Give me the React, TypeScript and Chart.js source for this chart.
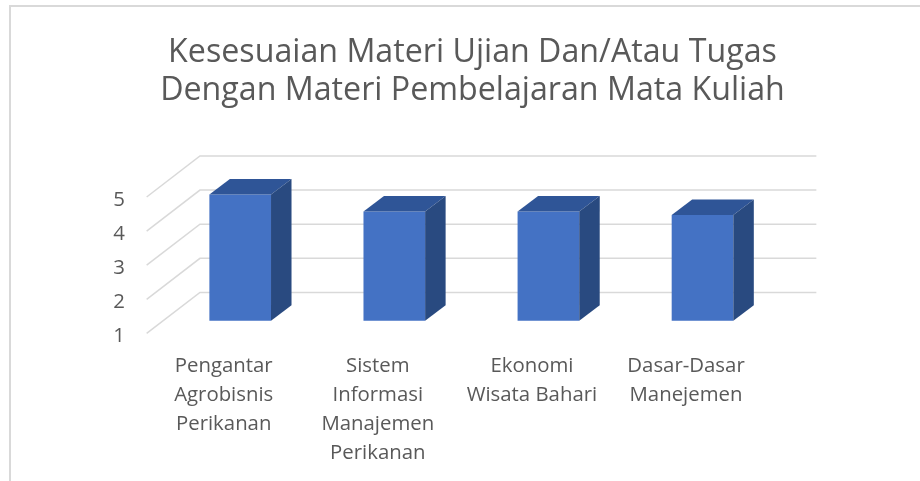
import React, { useEffect, useRef } from "react";
import { Chart, registerables } from "chart.js";

Chart.register(...registerables);

// ---- data ----
const TITLE_LINES = [
  "Kesesuaian Materi Ujian Dan/Atau Tugas",
  "Dengan Materi Pembelajaran Mata Kuliah",
];
const CATEGORIES: string[][] = [
  ["Pengantar", "Agrobisnis", "Perikanan"],
  ["Sistem", "Informasi", "Manajemen", "Perikanan"],
  ["Ekonomi", "Wisata Bahari"],
  ["Dasar-Dasar", "Manejemen"],
];
const VALUES = [4.7, 4.2, 4.2, 4.1];
const Y_TICKS = [1, 2, 3, 4, 5];

// ---- style ----
const FONT = '"Open Sans", "Noto Sans", sans-serif';
const TEXT = "#595959";
const GRID = "#d9d9d9";
const FRONT = "#4472C4";
const TOP = "#2F5597";
const SIDE = "#294A80";
// depth offsets relative to the bar front plane
const FX = -16.5, FY = 12.7; // front of the box
const BX = 36.8, BY = -28.3; // back wall
const DX = 20.5, DY = -15.5; // bar depth

function fitSize(ctx: CanvasRenderingContext2D, text: string, target: number) {
  ctx.font = `100px ${FONT}`;
  const w = ctx.measureText(text).width;
  return (100 * target) / w;
}

const threeD = {
  id: "threeD",
  beforeDraw(chart: any) {
    const ctx: CanvasRenderingContext2D = chart.ctx;
    const area = chart.chartArea;
    ctx.save();
    ctx.fillStyle = "#fff";
    ctx.fillRect(0, 0, chart.width, chart.height);
    // chart frame
    ctx.strokeStyle = GRID;
    ctx.lineWidth = 2;
    ctx.beginPath();
    ctx.moveTo(10, chart.height);
    ctx.lineTo(10, 6);
    ctx.lineTo(chart.width, 6);
    ctx.stroke();

    // title
    const ts = fitSize(ctx, TITLE_LINES[0], 609);
    ctx.font = `${ts}px ${FONT}`;
    ctx.fillStyle = TEXT;
    ctx.textAlign = "center";
    ctx.textBaseline = "alphabetic";
    ctx.fillText(TITLE_LINES[0], 472.5, 61.7);
    ctx.fillText(TITLE_LINES[1], 472.5, 100);

    // grid: back wall and left wall
    const ys = chart.scales.y;
    ctx.strokeStyle = GRID;
    ctx.lineWidth = 1.5;
    const ls = fitSize(ctx, "Pengantar", 98);
    Y_TICKS.forEach((t) => {
      const py = ys.getPixelForValue(t);
      ctx.beginPath();
      ctx.moveTo(area.left + FX, py + FY);
      ctx.lineTo(area.left + BX, py + BY);
      ctx.lineTo(area.right + BX, py + BY);
      ctx.stroke();
      ctx.font = `${ls}px ${FONT}`;
      ctx.fillStyle = TEXT;
      ctx.textAlign = "right";
      ctx.textBaseline = "alphabetic";
      ctx.fillText(String(t), 125, py + FY + 8.7);
    });

    // category labels
    const xs = chart.scales.x;
    ctx.font = `${ls}px ${FONT}`;
    ctx.textAlign = "center";
    CATEGORIES.forEach((lines, i) => {
      const px = xs.getPixelForValue(i) + FX;
      lines.forEach((ln, j) => {
        ctx.fillText(ln, px, 372.3 + j * 28.8);
      });
    });
    ctx.restore();
  },
  afterDatasetsDraw(chart: any) {
    const ctx: CanvasRenderingContext2D = chart.ctx;
    const meta = chart.getDatasetMeta(0);
    const floor = chart.scales.y.getPixelForValue(chart.scales.y.min);
    ctx.save();
    meta.data.forEach((bar: any) => {
      const { x, y, width } = bar.getProps(["x", "y", "width"], true);
      const base = floor;
      const l = x - width / 2;
      const r = x + width / 2;
      ctx.fillStyle = TOP;
      ctx.beginPath();
      ctx.moveTo(l, y);
      ctx.lineTo(r, y);
      ctx.lineTo(r + DX, y + DY);
      ctx.lineTo(l + DX, y + DY);
      ctx.closePath();
      ctx.fill();
      ctx.fillStyle = SIDE;
      ctx.beginPath();
      ctx.moveTo(r, y);
      ctx.lineTo(r, base);
      ctx.lineTo(r + DX, base + DY);
      ctx.lineTo(r + DX, y + DY);
      ctx.closePath();
      ctx.fill();
    });
    ctx.restore();
  },
};

export default function App() {
  const ref = useRef<HTMLCanvasElement | null>(null);
  useEffect(() => {
    if (!ref.current) return;
    const chart = new Chart(ref.current, {
      type: "bar",
      data: {
        labels: CATEGORIES.map((c) => c.join(" ")),
        datasets: [
          {
            data: VALUES,
            backgroundColor: FRONT,
            borderWidth: 0,
            categoryPercentage: 1,
            barPercentage: 0.4,
          },
        ],
      },
      options: {
        responsive: false,
        animation: false,
        devicePixelRatio: 1,
        layout: {
          padding: { left: 163.15, right: 920 - 779.55, top: 184.3, bottom: 481 - 320.7 },
        },
        plugins: { legend: { display: false }, tooltip: { enabled: false }, title: { display: false } },
        scales: {
          x: { display: false, offset: true },
          y: { display: false, min: 1, max: 5, ticks: { stepSize: 1 } },
        },
      },
      plugins: [threeD],
    });
    return () => chart.destroy();
  }, []);
  return (
    <div style={{ position: "absolute", left: 0, top: 0, width: 920, height: 481 }}>
      <canvas ref={ref} width={920} height={481} />
    </div>
  );
}
